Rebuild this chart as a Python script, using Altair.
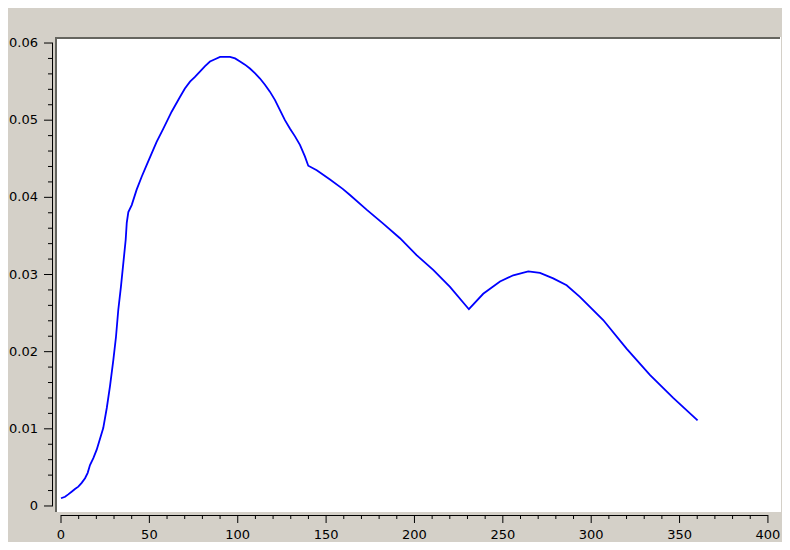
import altair as alt
import pandas as pd

# ---- data ----
angle = [0, 2.3, 4.1, 6.0, 7.9, 9.8, 11.7, 13.6, 15.1, 16.4, 18.3, 20.2, 23.9, 25.9, 27.7,
         29.6, 31.1, 32.4, 33.9, 36.6, 37.2, 38.1, 40.0, 42.8, 45.7, 48.5, 51.3, 54.1,
         57.9, 62.6, 67.3, 70.1, 73.0, 75.8, 78.6, 81.5, 84.3, 87.1, 90.0, 95.6, 98.5,
         101.3, 104.1, 106.9, 109.7, 112.6, 115.4, 118.2, 121.1, 123.9, 126.7, 129.6,
         132.4, 135.2, 138.0, 139.9, 144.7, 152.2, 159.4, 163.5, 172.9, 182.3, 191.8,
         201.2, 210.6, 220.1, 230.8, 238.9, 248.4, 255.9, 264.4, 271.0, 278.5, 286.1,
         293.6, 306.8, 320.0, 333.2, 346.4, 360.2]
value = [0.0010, 0.0012, 0.0015, 0.00185, 0.0022, 0.0025, 0.0030, 0.0036, 0.0043, 0.0053,
         0.0062, 0.0073, 0.0101, 0.0127, 0.0155, 0.0189, 0.0219, 0.0254, 0.0284, 0.0345,
         0.0367, 0.0381, 0.0390, 0.0410, 0.0427, 0.0442, 0.0457, 0.0472, 0.0489, 0.0511,
         0.0530, 0.0541, 0.0550, 0.0556, 0.0563, 0.0570, 0.0576, 0.0579, 0.0582, 0.0582,
         0.0580, 0.0576, 0.0572, 0.0567, 0.0561, 0.0554, 0.0546, 0.0537, 0.0526, 0.0513,
         0.0500, 0.0489, 0.0479, 0.0468, 0.0453, 0.0441, 0.0435, 0.0423, 0.0411, 0.0403,
         0.0384, 0.0366, 0.0347, 0.0325, 0.0306, 0.0284, 0.0255, 0.0275, 0.0291, 0.0299,
         0.0304, 0.0302, 0.0295, 0.0286, 0.0271, 0.0241, 0.0204, 0.0170, 0.0140, 0.0111]

x_major = [0, 50, 100, 150, 200, 250, 300, 350, 400]
x_labels = ["0", "50", "100", "150", "200", "250", "300", "350", "400"]
x_minor = [v for v in range(0, 401, 10) if v % 50 != 0]
y_major = [0, 0.01, 0.02, 0.03, 0.04, 0.05, 0.06]
y_labels = ["0", "0.01", "0.02", "0.03", "0.04", "0.05", "0.06"]
y_minor = [round(i * 0.002, 3) for i in range(31) if i % 5 != 0]

df = pd.DataFrame({"angle": angle, "value": value})
xmaj = pd.DataFrame({"t": x_major, "label": x_labels})
xmin = pd.DataFrame({"t": x_minor})
ymaj = pd.DataFrame({"t": y_major, "label": y_labels})
ymin = pd.DataFrame({"t": y_minor})

W, H = 726, 475
BG = "#d4d0c8"
BORDER = "#65655f"
FONT = "DejaVu Sans"
INK = "black"

xs = alt.Scale(domain=[-3.4, 407.4], nice=False, zero=False)
ys = alt.Scale(domain=[-0.00078, 0.06078], nice=False, zero=False)


def X(field):
    return alt.X(field, type="quantitative", scale=xs, axis=None)


def Y(field):
    return alt.Y(field, type="quantitative", scale=ys, axis=None)


line = alt.Chart(df).mark_line(color="#0000ff", strokeWidth=1.8).encode(
    x=X("angle"), y=Y("value")
)

# axis lines (span first to last major tick)
x_line = alt.Chart(xmaj).mark_rule(color=INK, strokeWidth=1).encode(
    x=alt.X("min(t)", type="quantitative", scale=xs, axis=None),
    x2="max(t)", y=alt.value(H + 3.5)
)
y_line = alt.Chart(ymaj).mark_rule(color=INK, strokeWidth=1).encode(
    y=alt.Y("min(t)", type="quantitative", scale=ys, axis=None),
    y2="max(t)", x=alt.value(-2.5)
)

# ticks
x_major_ticks = alt.Chart(xmaj).mark_rule(color=INK, strokeWidth=1).encode(
    x=X("t"), y=alt.value(H + 3), y2=alt.value(H + 11)
)
x_minor_ticks = alt.Chart(xmin).mark_rule(color=INK, strokeWidth=1).encode(
    x=X("t"), y=alt.value(H + 3), y2=alt.value(H + 7)
)
y_major_ticks = alt.Chart(ymaj).mark_rule(color=INK, strokeWidth=1).encode(
    y=Y("t"), x=alt.value(-2), x2=alt.value(-11)
)
y_minor_ticks = alt.Chart(ymin).mark_rule(color=INK, strokeWidth=1).encode(
    y=Y("t"), x=alt.value(-2), x2=alt.value(-7)
)

# tick labels
x_text = alt.Chart(xmaj).mark_text(
    font=FONT, fontSize=13, color=INK, align="center", baseline="alphabetic"
).encode(x=X("t"), y=alt.value(H + 27), text="label:N")
y_text = alt.Chart(ymaj).mark_text(
    font=FONT, fontSize=13, color=INK, align="right", baseline="middle"
).encode(y=Y("t"), x=alt.value(-17), text="label:N")

# plot-area frame (top and left only)
top_border = alt.Chart(df).mark_rule(color=BORDER, strokeWidth=2).encode(
    x=alt.value(0), x2=alt.value(W - 1), y=alt.value(1)
)
left_border = alt.Chart(df).mark_rule(color=BORDER, strokeWidth=2).encode(
    y=alt.value(0), y2=alt.value(H), x=alt.value(1)
)

chart = alt.layer(
    line, x_line, y_line, x_major_ticks, x_minor_ticks, y_major_ticks, y_minor_ticks,
    x_text, y_text, top_border, left_border
).properties(
    width=W, height=H, background=BG,
    autosize=alt.AutoSizeParams(type="none"),
    padding={"left": 47, "top": 29, "right": 1, "bottom": 30},
).configure_view(fill="white", strokeWidth=0)

chart.save("out.html", embed_options={"renderer": "svg", "actions": False})
